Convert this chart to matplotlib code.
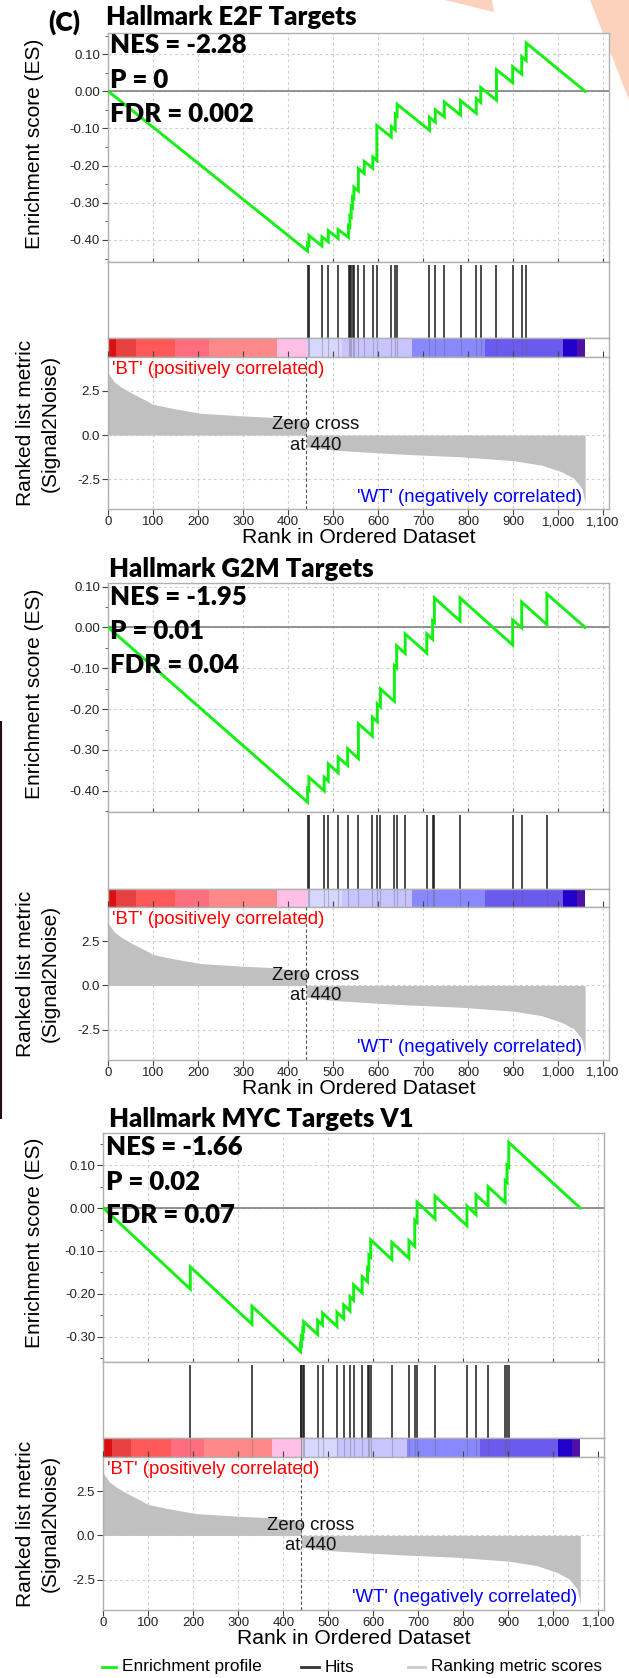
import matplotlib
matplotlib.use('Agg')
import matplotlib.pyplot as plt
from matplotlib.lines import Line2D
from matplotlib.patches import Polygon
from matplotlib.ticker import MultipleLocator, FuncFormatter, FixedLocator

plt.rcParams['font.family'] = ['Liberation Sans', 'DejaVu Sans']

# ranked list metric (Signal2Noise), same ordered dataset in all three panels
metric_rank = [0, 13, 27, 53, 89, 98, 143, 205, 294, 366, 419, 440, 440, 500, 651, 785, 901, 963, 1008, 1035, 1053, 1060]
metric_val = [3.49, 3.02, 2.74, 2.36, 1.89, 1.75, 1.51, 1.23, 1.09, 1.00, 0.85, 0.75, -0.66, -0.85, -1.08, -1.23, -1.45, -1.70, -2.08, -2.45, -3.02, -3.87]
zero_cross = 440
n_genes = 1060

# colour strip under the hits
bar_edges = [0, 18, 61, 149, 224, 374, 441, 520, 675, 837, 1011, 1041, 1060]
bar_colors = ['#dc1010', '#e84040', '#ff5858', '#ff6e7e', '#ff8888', '#ffbfe6',
              '#d6d6ff', '#c8c4ff', '#8888ff', '#6a5aee', '#2200cc', '#5010a8']

titles = ['Hallmark E2F Targets', 'Hallmark G2M Targets', 'Hallmark MYC Targets V1']
nes = ['-2.28', '-1.95', '-1.66']
pvals = ['0', '0.01', '0.02']
fdrs = ['0.002', '0.04', '0.07']

e2f_hits = [443, 446, 475, 489, 511, 534, 537, 540, 543, 546, 556, 569, 588, 597, 629, 638, 642,
            714, 727, 747, 783, 818, 828, 863, 899, 919, 929]
e2f_before = [-0.430, -0.413, -0.416, -0.405, -0.396, -0.393, -0.365, -0.338, -0.313, -0.288, -0.268,
              -0.221, -0.207, -0.186, -0.123, -0.104, -0.066, -0.105, -0.083, -0.069, -0.064, -0.059,
              -0.030, -0.024, 0.023, 0.046, 0.083]
e2f_after = [-0.410, -0.388, -0.392, -0.375, -0.372, -0.362, -0.335, -0.310, -0.285, -0.258, -0.208,
             -0.189, -0.177, -0.092, -0.095, -0.062, -0.035, -0.070, -0.050, -0.029, -0.025, -0.020,
             0.010, 0.058, 0.066, 0.093, 0.130]

g2m_hits = [443, 446, 480, 489, 511, 532, 556, 587, 598, 605, 636, 641, 660, 708, 721, 725, 782,
            899, 919, 975]
g2m_before = [-0.428, -0.398, -0.400, -0.376, -0.356, -0.338, -0.321, -0.266, -0.231, -0.194, -0.181,
              -0.099, -0.064, -0.063, -0.029, 0.012, 0.016, -0.043, -0.001, 0.007]
g2m_after = [-0.395, -0.367, -0.367, -0.334, -0.318, -0.297, -0.236, -0.220, -0.187, -0.151, -0.094,
             -0.045, -0.016, -0.016, 0.016, 0.072, 0.072, 0.018, 0.062, 0.082]

myc_hits = [193, 330, 438, 440, 443, 445, 476, 487, 519, 534, 548, 556, 575, 587, 590, 594, 641,
            679, 692, 697, 737, 808, 828, 855, 893, 897, 901]
myc_before = [-0.189, -0.271, -0.335, -0.320, -0.303, -0.285, -0.295, -0.273, -0.276, -0.258, -0.240,
              -0.215, -0.198, -0.172, -0.143, -0.114, -0.120, -0.117, -0.089, -0.033, -0.025, -0.041,
              -0.015, 0.005, 0.013, 0.060, 0.096]
myc_after = [-0.137, -0.229, -0.318, -0.300, -0.283, -0.265, -0.262, -0.245, -0.243, -0.226, -0.207,
             -0.179, -0.160, -0.140, -0.110, -0.074, -0.080, -0.076, -0.028, 0.014, 0.028, 0.005,
             0.031, 0.050, 0.064, 0.100, 0.153]

hits_all = [e2f_hits, g2m_hits, myc_hits]
before_all = [e2f_before, g2m_before, myc_before]
after_all = [e2f_after, g2m_after, myc_after]

W, H = 629, 1678
fig = plt.figure(figsize=(W / 100, H / 100), dpi=100)
fig.patch.set_facecolor('white')

def box(l, t, r, b):
    return fig.add_axes([l / W, 1 - b / H, (r - l) / W, (b - t) / H])

def ftext(x, y, s, **kw):
    return fig.text(x / W, 1 - y / H, s, **kw)

# pixel layout of each panel: x range, ES / hits / bar / ranked boxes, ES y-limits
layout = [
    dict(l=108.3, r=608.5, es=(33.3, 261.5), hit=(261.5, 338.3), bar=(338.3, 357.3), rk=(357.3, 509.3),
         esl=(-0.458, 0.156), title_y=25, title_x=106, stat_x=110, stat_y=(53, 88, 122)),
    dict(l=108.3, r=608.5, es=(583.3, 812.0), hit=(812.0, 888.7), bar=(888.7, 907.3), rk=(907.3, 1060.0),
         esl=(-0.452, 0.108), title_y=577, title_x=109, stat_x=110, stat_y=(605, 639, 673)),
    dict(l=103.5, r=603.7, es=(1132.7, 1361.7), hit=(1361.7, 1438.3), bar=(1438.3, 1457.3), rk=(1457.3, 1610.0),
         esl=(-0.3585, 0.176), title_y=1127, title_x=109, stat_x=106, stat_y=(1155, 1190, 1223)),
]

XMAX = 1112
green = '#14f014'
spine_c = '#b0b0b0'
grid_kw = dict(color='#cfcfcf', linestyle=(0, (2.5, 2.5)), linewidth=0.8)
tick_fs = 9.5
bold = ['Lato', 'DejaVu Sans']

def style(ax):
    for s in ax.spines.values():
        s.set_color(spine_c)
        s.set_linewidth(1.0)
    ax.set_xlim(0, XMAX)
    ax.tick_params(colors='#444444', labelcolor='#222222', labelsize=tick_fs, width=0.8)

for i, L in enumerate(layout):
    hits = hits_all[i]
    xs = [0]
    ys = [0.0]
    for h, b, a in zip(hits, before_all[i], after_all[i]):
        xs += [h, h]
        ys += [b, a]
    xs.append(n_genes)
    ys.append(0.0)

    # enrichment score
    ax = box(L['l'], L['es'][0], L['r'], L['es'][1])
    style(ax)
    ax.set_ylim(*L['esl'])
    ax.yaxis.set_major_locator(MultipleLocator(0.1))
    ax.yaxis.set_minor_locator(MultipleLocator(0.05))
    ax.yaxis.set_major_formatter(FuncFormatter(lambda v, p: '%.2f' % v))
    ax.xaxis.set_major_locator(MultipleLocator(100))
    ax.tick_params(axis='y', length=4, pad=2)
    ax.tick_params(axis='y', which='minor', length=2.5, color='#444444')
    ax.tick_params(axis='x', direction='in', length=3, labelbottom=False)
    ax.grid(True, which='major', **grid_kw)
    ax.axhline(0, color='#808080', lw=1.2, zorder=2)
    ax.plot(xs, ys, color=green, lw=2.1, zorder=3, solid_joinstyle='miter')

    # hits
    axh = box(L['l'], L['hit'][0], L['r'], L['hit'][1])
    style(axh)
    axh.set_ylim(0, 1)
    axh.set_xticks([])
    axh.set_yticks([])
    axh.vlines(hits, 0, 0.96, color='#1a1a1a', lw=1.1)

    # colour strip
    axb = box(L['l'], L['bar'][0], L['r'], L['bar'][1])
    style(axb)
    axb.set_ylim(0, 1)
    axb.set_xticks([])
    axb.set_yticks([])
    for x0, x1, c in zip(bar_edges[:-1], bar_edges[1:], bar_colors):
        axb.axvspan(x0, x1, color=c, lw=0)
    axb.vlines(hits, 0, 1, color='#606060', alpha=0.35, lw=0.8)

    # ranked list metric
    axr = box(L['l'], L['rk'][0], L['r'], L['rk'][1])
    style(axr)
    axr.set_ylim(-4.2, 4.4)
    axr.fill_between(metric_rank, metric_val, 0, color='#c0c0c0', lw=0, zorder=2)
    axr.xaxis.set_major_locator(MultipleLocator(100))
    axr.xaxis.set_major_formatter(FuncFormatter(lambda v, p: '{:,}'.format(int(v))))
    axr.yaxis.set_major_locator(FixedLocator([-2.5, 0.0, 2.5]))
    axr.yaxis.set_major_formatter(FuncFormatter(lambda v, p: '%.1f' % v))
    axr.tick_params(axis='x', length=4, pad=1, top=True)
    axr.tick_params(axis='y', length=4, pad=2)
    axr.grid(True, **grid_kw)
    axr.set_axisbelow(True)
    axr.axvline(zero_cross, color='#555555', lw=0.8, linestyle=(0, (3, 2)), zorder=3)
    axr.text(8, 3.7, "'BT' (positively correlated)", color='#ff0000', fontsize=13.4,
             ha='left', va='center', zorder=4)
    axr.text(1053, -3.52, "'WT' (negatively correlated)", color='#0000ff', fontsize=13.4,
             ha='right', va='center', zorder=4)
    axr.text(460, 0.0, 'Zero cross\nat 440', color='#111111', fontsize=13.3, ha='center',
             va='center', linespacing=1.25, zorder=4)

    # labels
    cx = (L['l'] + L['r']) / 2
    ftext(cx, L['rk'][1] + 28, 'Rank in Ordered Dataset', fontsize=15.2, ha='center', va='center')
    ftext(35, (L['es'][0] + L['es'][1]) / 2 - 4, 'Enrichment score (ES)', fontsize=15,
          rotation=90, ha='center', va='center')
    ftext(38, (L['rk'][0] + L['rk'][1]) / 2 - 10, 'Ranked list metric\n(Signal2Noise)', fontsize=15,
          rotation=90, ha='center', va='center', multialignment='center', linespacing=1.35)
    ftext(L['title_x'], L['title_y'], titles[i], fontsize=18.5, fontweight='heavy', family=bold,
          va='baseline', ha='left')
    sy = L['stat_y']
    for y, s in zip(sy, ['NES = ' + nes[i], 'P = ' + pvals[i], 'FDR = ' + fdrs[i]]):
        ftext(L['stat_x'], y, s, fontsize=18.5, fontweight='heavy', family=bold, va='baseline')

ftext(48, 31, '(C)', fontsize=19, fontweight='heavy', family=bold, va='baseline')

# legend
ly = 1667
legend_items = [(102, 116, green, 'Enrichment profile'), (301, 319, '#333333', 'Hits'),
                (408, 425, '#cccccc', 'Ranking metric scores')]
for x0, x1, c, lab in legend_items:
    fig.add_artist(Line2D([x0 / W, x1 / W], [1 - ly / H, 1 - ly / H], color=c, lw=2.0,
                          transform=fig.transFigure))
    ftext(x1 + 6, ly, lab, fontsize=12.4, va='center', ha='left')

# background fragments from the source figure
fig.add_artist(Polygon([(445 / W, 1.0), (492 / W, 1.0), (494 / W, 1 - 12 / H)], closed=True,
                       transform=fig.transFigure, color='#fbd3bd', lw=0, zorder=-5))
fig.add_artist(Polygon([(590 / W, 1.0), (629 / W, 1.0), (629 / W, 1 - 100 / H)], closed=True,
                       transform=fig.transFigure, color='#fbd3bd', lw=0, zorder=-5))
fig.add_artist(Line2D([1 / W, 1 / W], [1 - 722 / H, 1 - 1118 / H], color='#2a0a14', lw=1.5,
                      transform=fig.transFigure))

fig.savefig('out.png', dpi=100, facecolor='white')
